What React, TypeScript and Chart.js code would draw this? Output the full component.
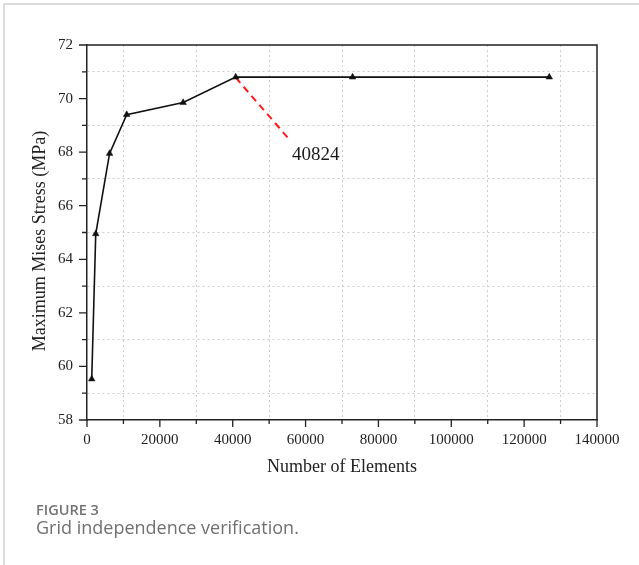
import { useEffect, useRef } from "react";
import { Chart, registerables } from "chart.js";

Chart.register(...registerables);

// ---- data ----
const elementCounts = [1300, 2400, 6200, 10900, 26400, 40824, 72900, 126900];
const maxMisesStress = [59.53, 64.95, 67.95, 69.4, 69.85, 70.8, 70.8, 70.8];
const leaderX = [40824, 55700];
const leaderY = [70.78, 68.45];
const annotationText = "40824";
const xTitle = "Number of Elements";
const yTitle = "Maximum Mises Stress (MPa)";
const captionLabel = "FIGURE 3";
const captionText = "Grid independence verification.";

const SERIF = "'Liberation Serif', 'Times New Roman', serif";
const SANS = "'Open Sans', 'Noto Sans', sans-serif";

const decorPlugin = {
  id: "decor",
  beforeDraw(chart: any) {
    const { ctx, width, height } = chart;
    ctx.save();
    ctx.fillStyle = "#ffffff";
    ctx.fillRect(0, 0, width, height);
    ctx.strokeStyle = "#d2d2d2";
    ctx.lineWidth = 1.5;
    ctx.beginPath();
    ctx.moveTo(4, height);
    ctx.lineTo(4, 4);
    ctx.lineTo(width, 4);
    ctx.stroke();
    ctx.restore();
  },
  afterDraw(chart: any) {
    const { ctx, chartArea } = chart;
    const xs = chart.scales.x;
    const ys = chart.scales.y;
    ctx.save();
    // top/right frame
    ctx.strokeStyle = "#222";
    ctx.lineWidth = 1.5;
    ctx.beginPath();
    ctx.moveTo(chartArea.left, chartArea.top);
    ctx.lineTo(chartArea.right, chartArea.top);
    ctx.lineTo(chartArea.right, chartArea.bottom);
    ctx.stroke();
    // tick marks
    ctx.lineWidth = 1.3;
    ctx.beginPath();
    xs.ticks.forEach((t: any) => {
      const px = xs.getPixelForValue(t.value);
      const len = t.value % 20000 === 0 ? 7 : 4;
      ctx.moveTo(px, chartArea.bottom);
      ctx.lineTo(px, chartArea.bottom + len);
    });
    ys.ticks.forEach((t: any) => {
      const py = ys.getPixelForValue(t.value);
      const len = t.value % 2 === 0 ? 8 : 5;
      ctx.moveTo(chartArea.left, py);
      ctx.lineTo(chartArea.left - len, py);
    });
    ctx.stroke();
    // y title
    ctx.fillStyle = "#222";
    ctx.font = `18px ${SERIF}`;
    ctx.textAlign = "center";
    ctx.textBaseline = "middle";
    ctx.translate(40, 241);
    ctx.rotate(-Math.PI / 2);
    ctx.fillText(yTitle, 0, 0);
    ctx.setTransform(1, 0, 0, 1, 0, 0);
    // annotation label at end of leader
    const ex = xs.getPixelForValue(leaderX[1]);
    const ey = ys.getPixelForValue(leaderY[1]);
    ctx.font = `19px ${SERIF}`;
    ctx.textAlign = "left";
    ctx.textBaseline = "alphabetic";
    ctx.fillStyle = "#1a1a1a";
    ctx.fillText(annotationText, ex + 2, ey + 20);
    // caption
    ctx.fillStyle = "#737373";
    ctx.font = `600 14.5px ${SANS}`;
    ctx.fillText(captionLabel, 36, 515);
    ctx.fillStyle = "#707070";
    ctx.font = `18px ${SANS}`;
    ctx.fillText(captionText, 36, 534);
    ctx.restore();
  },
};

export default function App() {
  const ref = useRef<HTMLCanvasElement | null>(null);
  useEffect(() => {
    document.body.style.margin = "0";
    const canvas = ref.current;
    if (!canvas) return;
    const chart = new Chart(canvas, {
      type: "scatter",
      data: {
        datasets: [
          {
            data: elementCounts.map((x, i) => ({ x, y: maxMisesStress[i] })),
            showLine: true,
            borderColor: "#111",
            backgroundColor: "#111",
            borderWidth: 1.6,
            pointStyle: "triangle",
            pointRadius: 3.8,
            pointBorderWidth: 0.5,
            tension: 0,
          },
          {
            data: leaderX.map((x, i) => ({ x, y: leaderY[i] })),
            showLine: true,
            borderColor: "#ff1a1a",
            borderWidth: 2,
            borderDash: [7, 5],
            pointRadius: 0,
          },
        ],
      },
      options: {
        animation: false,
        responsive: false,
        devicePixelRatio: 1,
        layout: { padding: { left: 0, top: 45, right: 42, bottom: 70 } },
        plugins: {
          legend: { display: false },
          tooltip: { enabled: false },
        },
        scales: {
          x: {
            type: "linear",
            min: 0,
            max: 140000,
            afterFit: (s: any) => {
              s.height = 75;
            },
            ticks: {
              stepSize: 10000,
              autoSkip: false,
              maxRotation: 0,
              padding: 11,
              color: "#222",
              font: { family: SERIF, size: 15 },
              callback: (v: any) => (Number(v) % 20000 === 0 ? String(v) : ""),
            },
            grid: {
              drawTicks: false,
              lineWidth: 1,
              color: (c: any) =>
                c.tick && c.tick.value % 20000 !== 0 ? "#cdcdcd" : "rgba(0,0,0,0)",
            },
            border: { display: true, color: "#222", width: 1.5, dash: [2, 3] },
            title: {
              display: true,
              text: xTitle,
              color: "#222",
              font: { family: SERIF, size: 18 },
              padding: { top: 0, bottom: 17 },
            },
          },
          y: {
            type: "linear",
            min: 58,
            max: 72,
            afterFit: (s: any) => {
              s.width = 87;
            },
            ticks: {
              stepSize: 1,
              autoSkip: false,
              padding: 14,
              color: "#222",
              font: { family: SERIF, size: 15 },
              callback: (v: any) => (Number(v) % 2 === 0 ? String(v) : ""),
            },
            grid: {
              drawTicks: false,
              lineWidth: 1,
              color: (c: any) =>
                c.tick && c.tick.value % 2 !== 0 ? "#cdcdcd" : "rgba(0,0,0,0)",
            },
            border: { display: true, color: "#222", width: 1.5, dash: [2, 3] },
          },
        },
      },
      plugins: [decorPlugin],
    } as any);
    return () => chart.destroy();
  }, []);
  return (
    <canvas
      ref={ref}
      width={639}
      height={565}
      style={{ display: "block", width: 639, height: 565 }}
    />
  );
}
